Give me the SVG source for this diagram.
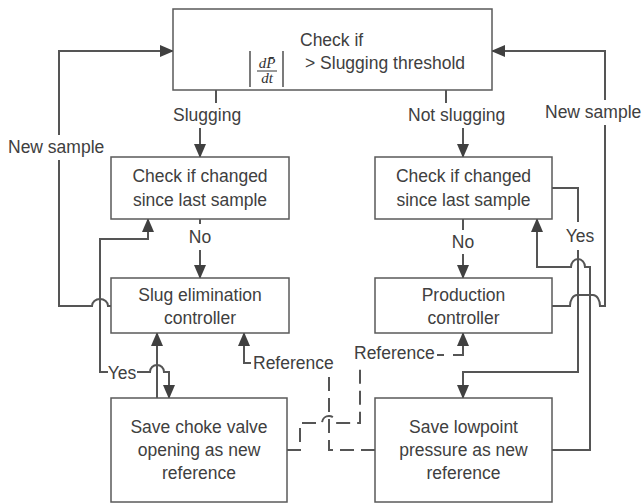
<svg xmlns="http://www.w3.org/2000/svg" width="644" height="504" viewBox="0 0 644 504">
<style>
.box{fill:#fff;stroke:#5a5a5a;stroke-width:1.5}
.t{font-family:"Liberation Sans",Arial,sans-serif;font-size:17.5px;fill:#404040}
.c{text-anchor:middle}
.ln{fill:none;stroke:#555;stroke-width:2}
.dash{stroke-dasharray:14 7}
.m{font-family:"Liberation Serif","Times New Roman",serif;font-style:italic;font-size:15px;fill:#333;text-anchor:middle}
</style>
<defs>
<marker id="ah" viewBox="0 0 14 12" refX="13" refY="6" markerWidth="14" markerHeight="12" markerUnits="userSpaceOnUse" orient="auto">
<path d="M0,0 L14,6 L0,12 z" fill="#404040"/>
</marker>
</defs>
<rect width="644" height="504" fill="#fff"/>

<g id="connectors">
<!-- top decisions -->
<path class="ln" d="M216,90 V103"/>
<path class="ln" d="M200,128 V157" marker-end="url(#ah)"/>
<path class="ln" d="M446,90 V103"/>
<path class="ln" d="M463,128 V157" marker-end="url(#ah)"/>
<!-- No -->
<path class="ln" d="M200,219 V224"/>
<path class="ln" d="M200,250 V278" marker-end="url(#ah)"/>
<path class="ln" d="M463,219 V230"/>
<path class="ln" d="M463,254 V278" marker-end="url(#ah)"/>
<!-- left new sample -->
<path class="ln" d="M111,306 H108 A8,7 0 0 0 92,306 H59 V160"/>
<path class="ln" d="M59,135 V51 H173" marker-end="url(#ah)"/>
<!-- right new sample -->
<path class="ln" d="M552,306 H570 A7,11 0 0 1 577,295 H593 A7,11 0 0 1 600,306 H605 V125"/>
<path class="ln" d="M605,100 V51 H492" marker-end="url(#ah)"/>
<!-- right yes -->
<path class="ln" d="M552,188 H578 V222"/>
<path class="ln" d="M578,250 V372 H463 V398" marker-end="url(#ah)"/>
<!-- right loop back -->
<path class="ln" d="M552,450 H590 V267 H585 A7,8 0 0 0 571,267 H537 V219" marker-end="url(#ah)"/>
<!-- left yes -->
<path class="ln" d="M108,372 H100 V239 H148 V219" marker-end="url(#ah)"/>
<path class="ln" d="M137,372 H150 A7,7 0 0 1 164,372 H169 V398" marker-end="url(#ah)"/>
<!-- save choke to slug -->
<path class="ln" d="M157,398 V333" marker-end="url(#ah)"/>
<!-- left reference -->
<path class="ln" d="M251,363 H244 V333" marker-end="url(#ah)"/>
<path class="ln dash" d="M375,450 H329 V376"/>
<!-- right reference -->
<path class="ln dash" d="M287,450 H300 V423 H322 A7,7 0 0 1 336,423 H360 V368"/>
<path class="ln" d="M437,355 H444"/>
<path class="ln" d="M453,355 H463 V333" marker-end="url(#ah)"/>
</g>

<g id="labels">
<text class="t" x="173" y="121">Slugging</text>
<text class="t" x="408" y="121">Not slugging</text>
<text class="t" x="8" y="153">New sample</text>
<text class="t" x="545" y="118">New sample</text>
<text class="t c" x="200" y="243">No</text>
<text class="t c" x="463" y="248">No</text>
<text class="t c" x="580" y="242">Yes</text>
<text class="t c" x="122" y="379">Yes</text>
<text class="t" x="253" y="369">Reference</text>
<text class="t" x="354" y="359">Reference</text>
</g>

<g id="node-check-threshold">
<rect class="box" x="173" y="9" width="319" height="81"/>
<text class="t" x="300" y="46">Check if</text>
<text class="t" x="305" y="69">&gt; Slugging threshold</text>
<line x1="250" y1="51" x2="250" y2="87" stroke="#333" stroke-width="1.3"/>
<line x1="283" y1="51" x2="283" y2="87" stroke="#333" stroke-width="1.3"/>
<text class="m" x="267" y="68">dP&#x304;</text>
<line x1="257" y1="71" x2="277" y2="71" stroke="#333" stroke-width="1"/>
<text class="m" x="267" y="83">dt</text>
</g>

<g id="node-check-left">
<rect class="box" x="111" y="157" width="178" height="62"/>
<text class="t c" x="200" y="182">Check if changed</text>
<text class="t c" x="200" y="206">since last sample</text>
</g>

<g id="node-slug-controller">
<rect class="box" x="111" y="278" width="178" height="55"/>
<text class="t c" x="200" y="301">Slug elimination</text>
<text class="t c" x="200" y="324">controller</text>
</g>

<g id="node-save-choke">
<rect class="box" x="111" y="398" width="176" height="104"/>
<text class="t c" x="199" y="433">Save choke valve</text>
<text class="t c" x="199" y="456">opening as new</text>
<text class="t c" x="199" y="479">reference</text>
</g>

<g id="node-check-right">
<rect class="box" x="375" y="157" width="177" height="62"/>
<text class="t c" x="463.5" y="182">Check if changed</text>
<text class="t c" x="463.5" y="206">since last sample</text>
</g>

<g id="node-production-controller">
<rect class="box" x="375" y="278" width="177" height="55"/>
<text class="t c" x="463.5" y="301">Production</text>
<text class="t c" x="463.5" y="324">controller</text>
</g>

<g id="node-save-lowpoint">
<rect class="box" x="375" y="398" width="177" height="104"/>
<text class="t c" x="463.5" y="433">Save lowpoint</text>
<text class="t c" x="463.5" y="456">pressure as new</text>
<text class="t c" x="463.5" y="479">reference</text>
</g>
</svg>
